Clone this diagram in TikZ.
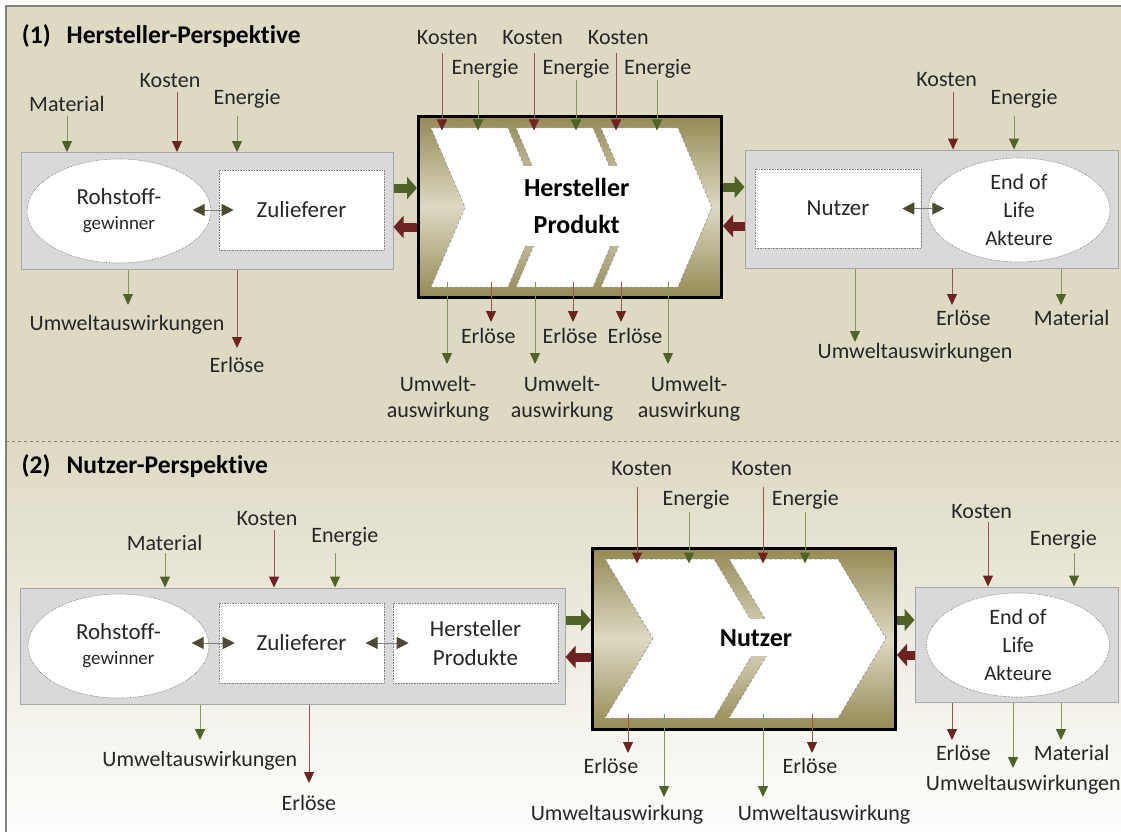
\documentclass[tikz,border=0pt]{standalone}
\usepackage{fontspec}
\setmainfont{Carlito}[Ligatures=NoCommon]
\usetikzlibrary{arrows.meta,shapes.geometric}

\definecolor{tanbg}{HTML}{DDD9C3}
\definecolor{olivebox}{HTML}{948A54}
\definecolor{actorfill}{HTML}{D9D9D9}
\definecolor{actorline}{HTML}{A6A6A6}
\definecolor{costline}{HTML}{A05250}
\definecolor{costtip}{HTML}{6E2322}
\definecolor{energyline}{HTML}{809A55}
\definecolor{energytip}{HTML}{4F6228}
\definecolor{exchtip}{HTML}{4D4A32}
\definecolor{labeltext}{HTML}{262626}

\tikzset{
  lbl/.style={font=\fontsize{22}{26}\selectfont, text=labeltext, inner sep=0pt},
  headline/.style={font=\fontsize{25.5}{30}\selectfont\bfseries, anchor=base west, inner sep=0pt},
  actor/.style={draw=actorline, fill=actorfill, line width=1pt},
  partner/.style={draw=gray, densely dotted, fill=white, line width=0.6pt,
    font=\fontsize{23}{29}\selectfont, text=labeltext, align=center, inner sep=0pt},
  oval/.style={partner, ellipse, draw=gray!80!black},
  hub/.style={draw=black, line width=3pt, top color=olivebox, bottom color=olivebox, middle color=tanbg},
  hubtext/.style={fill=white, font=\fontsize{26}{36.6}\selectfont\bfseries, align=center,
    inner xsep=8pt, inner ysep=12pt},
  chev/.style={fill=white, draw=gray, densely dashed, line width=0.5pt},
  cost/.style={costline, line width=1pt, -{Triangle[length=11pt,width=10pt,color=costtip]}},
  energy/.style={energyline, line width=1pt, -{Triangle[length=11pt,width=10pt,color=energytip]}},
  exch/.style={gray, line width=1pt,
    {Triangle[length=12pt,width=12pt,color=exchtip]}-{Triangle[length=12pt,width=12pt,color=exchtip]}},
  pushfwd/.style={energytip, line width=9pt, -{Triangle[length=10pt,width=22pt]}},
  pushback/.style={costtip, line width=9pt, -{Triangle[length=10pt,width=22pt]}},
}

\begin{document}
\begin{tikzpicture}[x=1pt,y=-1pt]
  \useasboundingbox (0,0) rectangle (1121,832);

  % panels
  \fill[tanbg] (6,6) rectangle (1121,441);
  \fill[top color=tanbg, bottom color=white!96!tanbg] (6,441) rectangle (1121,832);
  \draw[gray, line width=1.2pt] (6,832) -- (6,6) -- (1121,6);
  \draw[gray, dashed, line width=0.6pt] (6,441) -- (1121,441);

  %%%%% (1) Hersteller-Perspektive
  \node[headline] (t1) at (21.7,43.3) {(1)\hspace{16pt}Hersteller-Perspektive};

  % left actors
  \node[actor, minimum width=372pt, minimum height=117pt] (lbox1) at (207,211) {};
  \node[oval, font=\fontsize{23}{25}\selectfont, minimum width=184pt, minimum height=104pt] (rg1) at (119,211)
    {Rohstoff-\\{\fontsize{19}{25}\selectfont gewinner}};
  \node[partner, minimum width=165pt, minimum height=80pt] (zl1) at (301.5,210) {Zulieferer};
  \draw[exch] ([xshift=-26pt]zl1.west) -- ([xshift=15pt]zl1.west);

  % hub
  \node[hub, minimum width=303pt, minimum height=181pt] (hbox) at (570,207) {};
  \foreach \cx in {431,516,601}
    \draw[chev] (\cx,128) -- ++(77,0) -- ++(34,79.5) -- ++(-34,79.5) -- ++(-77,0) -- ++(34,-79.5) -- cycle;
  \node[hubtext] (hname) at (576.7,206) {Hersteller\\Produkt};

  % right actors
  \node[actor, minimum width=373pt, minimum height=118pt] (rbox1) at (931.5,209) {};
  \node[partner, minimum width=166pt, minimum height=79pt] (nu1) at (838,208.5) {Nutzer};
  \node[oval, font=\fontsize{22}{28}\selectfont, minimum width=182pt, minimum height=104pt] (eol1) at (1019,210)
    {End of\\Life\\{\fontsize{21}{28}\selectfont Akteure}};
  \draw[exch] ([xshift=-19pt]nu1.east) -- ([xshift=23pt]nu1.east);

  % product flow
  \draw[pushfwd] (lbox1.east |- 0,188) -- (hbox.west |- 0,188);
  \draw[pushback] (hbox.west |- 0,227) -- (lbox1.east |- 0,227);
  \draw[pushfwd] (hbox.east |- 0,187) -- (rbox1.west |- 0,187);
  \draw[pushback] (rbox1.west |- 0,226) -- (hbox.east |- 0,226);

  % inputs and outputs
  \foreach \x/\y/\s in {67/116/energy, 177/92/cost, 237/116/energy}
    \draw[\s] (\x,\y) coordinate (src) -- (src |- lbox1.north);
  \foreach \x/\y/\s in {128/305/energy, 237/348/cost}
    \draw[\s] (\x,0 |- lbox1.south) -- (\x,\y) coordinate (snk);

  \coordinate (ctop1) at ([yshift=-15.5pt]hbox.north);
  \coordinate (cbot1) at ([yshift=17.5pt]hbox.south);
  \foreach \x in {442,534,616}
    \draw[cost] (\x,53) coordinate (src) -- (src |- ctop1);
  \foreach \x in {478,576,657}
    \draw[energy] (\x,80) coordinate (src) -- (src |- ctop1);
  \foreach \x in {447,535,668}
    \draw[energy] (\x,0 |- cbot1) -- (\x,364) coordinate (snk);
  \foreach \x in {491,573,621}
    \draw[cost] (\x,0 |- cbot1) -- (\x,322) coordinate (snk);

  \foreach \x/\y/\s in {953/92/cost, 1014/116/energy}
    \draw[\s] (\x,\y) coordinate (src) -- (src |- rbox1.north);
  \foreach \x/\y/\s in {855/342/energy, 952/305/cost, 1061/305/energy}
    \draw[\s] (\x,0 |- rbox1.south) -- (\x,\y) coordinate (snk);

  % labels
  \foreach \x/\y/\t [count=\i] in {67/111.7/Material, 170/87.3/Kosten, 247/105/Energie,
      127/330.7/Umweltauswirkungen, 237/372.7/Erlöse,
      447.3/45/Kosten, 532.7/45/Kosten, 618.3/45/Kosten,
      485/74.3/Energie, 576/74.3/Energie, 657.7/74.3/Energie,
      488.3/343.3/Erlöse, 570/343.3/Erlöse, 635/343.3/Erlöse,
      946.7/86.7/Kosten, 1024/104.3/Energie, 963.3/325/Erlöse, 1071.7/325/Material,
      915/358.3/Umweltauswirkungen}
    \node[lbl, anchor=base] (a\i) at (\x,\y) {\t};
  \foreach \x [count=\i] in {438,562,689}
    \node[lbl, align=center] (u\i) at (\x,398.5) {Umwelt-\\auswirkung};

  %%%%% (2) Nutzer-Perspektive
  \node[headline] (t2) at (21.5,473.3) {(2)\hspace{16pt}Nutzer-Perspektive};

  % left actors
  \node[actor, minimum width=545pt, minimum height=116pt] (lbox2) at (292.5,646) {};
  \node[oval, font=\fontsize{23}{25}\selectfont, minimum width=181pt, minimum height=104pt] (rg2) at (118.5,646)
    {Rohstoff-\\{\fontsize{19}{25}\selectfont gewinner}};
  \node[partner, minimum width=165pt, minimum height=80pt] (zl2) at (301.5,643) {Zulieferer};
  \node[partner, minimum width=165pt, minimum height=80pt] (hp2) at (475.5,643) {Hersteller\\Produkte};
  \draw[exch] ([xshift=-27pt]zl2.west) -- ([xshift=16pt]zl2.west);
  \draw[exch] ([xshift=-27pt]hp2.west) -- ([xshift=16pt]hp2.west);

  % hub
  \node[hub, minimum width=303pt, minimum height=181pt] (nbox) at (744,639) {};
  \foreach \cx in {605,729}
    \draw[chev] (\cx,559) -- ++(109,0) -- ++(48,79.5) -- ++(-48,79.5) -- ++(-109,0) -- ++(48,-79.5) -- cycle;
  \node[hubtext, inner ysep=10pt, anchor=base] (nname) at (756,646) {Nutzer};

  % right actors
  \node[actor, minimum width=203pt, minimum height=115pt] (rbox2) at (1016.5,644.5) {};
  \node[oval, font=\fontsize{22}{28}\selectfont, minimum width=183pt, minimum height=104pt] (eol2) at (1018,645)
    {End of\\Life\\{\fontsize{21}{28}\selectfont Akteure}};

  % product flow
  \draw[pushfwd] (lbox2.east |- 0,620) -- (nbox.west |- 0,620);
  \draw[pushback] (nbox.west |- 0,657) -- (lbox2.east |- 0,657);
  \draw[pushfwd] (nbox.east |- 0,620) -- (rbox2.west |- 0,620);
  \draw[pushback] (rbox2.west |- 0,655) -- (nbox.east |- 0,655);

  % inputs and outputs
  \foreach \x/\y/\s in {165/553/energy, 274/530/cost, 335/553/energy}
    \draw[\s] (\x,\y) coordinate (src) -- (src |- lbox2.north);
  \foreach \x/\y/\s in {200/740/energy, 309/783/cost}
    \draw[\s] (\x,0 |- lbox2.south) -- (\x,\y) coordinate (snk);

  \coordinate (ctop2) at ([yshift=-16.5pt]nbox.north);
  \coordinate (cbot2) at ([yshift=17.5pt]nbox.south);
  \foreach \x in {637,763}
    \draw[cost] (\x,487) coordinate (src) -- (src |- ctop2);
  \foreach \x in {689,805}
    \draw[energy] (\x,512) coordinate (src) -- (src |- ctop2);
  \foreach \x in {628,812}
    \draw[cost] (\x,0 |- cbot2) -- (\x,753) coordinate (snk);
  \foreach \x in {664,763}
    \draw[energy] (\x,0 |- cbot2) -- (\x,797) coordinate (snk);

  \foreach \x/\y/\s in {988/522/cost, 1074/553/energy}
    \draw[\s] (\x,\y) coordinate (src) -- (src |- rbox2.north);
  \foreach \x/\y/\s in {952/740/cost, 1013/768/energy, 1061/740/energy}
    \draw[\s] (\x,0 |- rbox2.south) -- (\x,\y) coordinate (snk);

  % labels
  \foreach \x/\y/\t [count=\i] in {164.6/550/Material, 267/525/Kosten, 344.8/542.7/Energie,
      199.8/766.7/Umweltauswirkungen, 308.9/810/Erlöse,
      641.7/475.7/Kosten, 761.7/475.7/Kosten, 696/505.7/Energie, 805.3/505.7/Energie,
      611/773.3/Erlöse, 810/773.3/Erlöse, 617/820/Umweltauswirkung, 824/820/Umweltauswirkung,
      981.7/518.3/Kosten, 1063.3/545/Energie, 963.3/760.7/Erlöse, 1071.7/760.7/Material,
      1023.3/790.7/Umweltauswirkungen}
    \node[lbl, anchor=base] (b\i) at (\x,\y) {\t};
\end{tikzpicture}
\end{document}
